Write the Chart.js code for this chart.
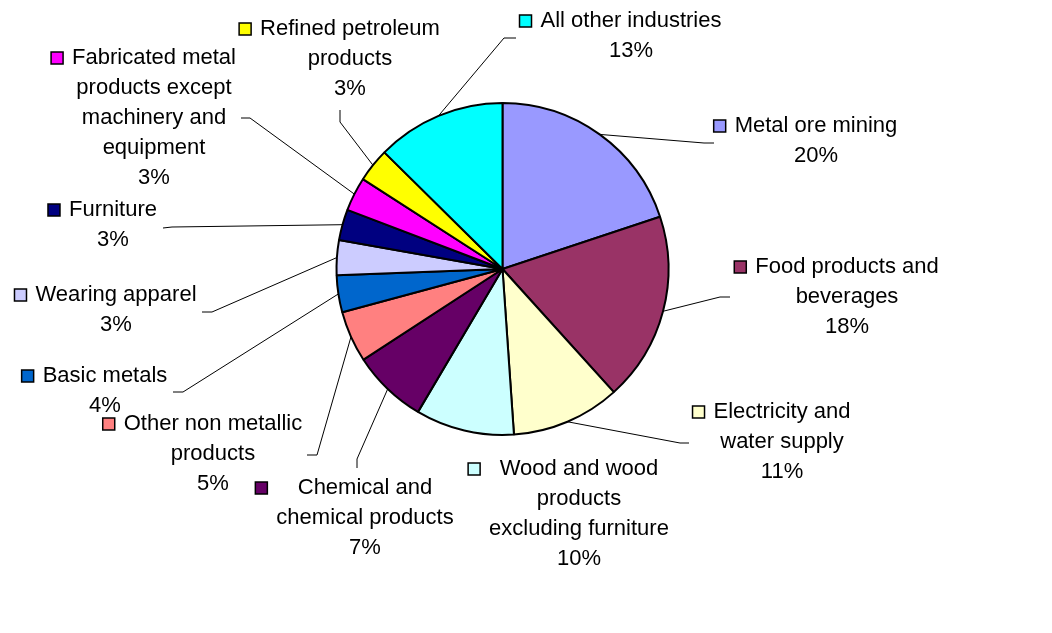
<!DOCTYPE html>
<html>
<head>
<meta charset="utf-8">
<title>Industries pie</title>
<script src="https://cdn.jsdelivr.net/npm/chart.js@4.4.1/dist/chart.umd.min.js"></script>
<style>
  html, body { margin: 0; padding: 0; background: #fff; }
  #chart { display: block; }
</style>
</head>
<body>
<canvas id="chart" width="1052" height="633"></canvas>
<script>
// categories (one entry per slice, split into the lines shown on the chart)
const categories = [
  ["Metal ore mining"],
  ["Food products and", "beverages"],
  ["Electricity and", "water supply"],
  ["Wood and wood", "products", "excluding furniture"],
  ["Chemical and", "chemical products"],
  ["Other non metallic", "products"],
  ["Basic metals"],
  ["Wearing apparel"],
  ["Furniture"],
  ["Fabricated metal", "products except", "machinery and", "equipment"],
  ["Refined petroleum", "products"],
  ["All other industries"],
];
// share of each industry
const shares = [19.9, 18.4, 10.6, 9.6, 7.3, 5.0, 3.6, 3.4, 3.0, 3.3, 3.3, 12.6];
const colors = [
  "#9999FF", "#993366", "#FFFFCC", "#CCFFFF", "#660066", "#FF8080",
  "#0066CC", "#CCCCFF", "#000080", "#FF00FF", "#FFFF00", "#00FFFF",
];

// where each label sits (text centre x, first line y) and its leader line
const labelLayout = [
  { cx: 816, y: 126, elbow: [704, 143], end: [714, 143] },
  { cx: 847, y: 267, elbow: [720, 297], end: [730, 297] },
  { cx: 782, y: 412, elbow: [680, 443], end: [689, 443] },
  { cx: 579, y: 469 },
  { cx: 365, y: 488, elbow: [357, 459], end: [357, 468] },
  { cx: 213, y: 424, elbow: [317, 455], end: [307, 455] },
  { cx: 105, y: 376, elbow: [183, 392], end: [173, 392] },
  { cx: 116, y: 295, elbow: [212, 312], end: [202, 312] },
  { cx: 113, y: 210, elbow: [172, 227], end: [163, 228] },
  { cx: 154, y: 58, elbow: [250, 118], end: [241, 118] },
  { cx: 350, y: 29, elbow: [340, 122], end: [340, 110] },
  { cx: 631, y: 21, elbow: [504, 38], end: [516, 38] },
];

const outsideLabels = {
  id: "outsideLabels",
  afterDraw(chart, args, opts) {
    const ctx = chart.ctx;
    const meta = chart.getDatasetMeta(0);
    const values = chart.data.datasets[0].data;
    const total = values.reduce((a, b) => a + b, 0);
    ctx.save();
    ctx.font = opts.font;
    ctx.fillStyle = "#000";
    ctx.textAlign = "center";
    ctx.textBaseline = "middle";
    meta.data.forEach((arc, i) => {
      const lay = opts.layout[i];
      const lines = chart.data.labels[i].concat([Math.round((values[i] / total) * 100) + "%"]);
      // leader line from the middle of the slice edge
      if (lay.end) {
        const p = arc.getProps(["x", "y", "startAngle", "endAngle", "outerRadius"], true);
        const mid = (p.startAngle + p.endAngle) / 2;
        ctx.beginPath();
        ctx.strokeStyle = "#000";
        ctx.lineWidth = 1;
        ctx.moveTo(p.x + Math.cos(mid) * p.outerRadius, p.y + Math.sin(mid) * p.outerRadius);
        ctx.lineTo(lay.elbow[0], lay.elbow[1]);
        ctx.lineTo(lay.end[0], lay.end[1]);
        ctx.stroke();
      }
      let maxW = 0;
      lines.forEach((t, j) => {
        maxW = Math.max(maxW, ctx.measureText(t).width);
        ctx.fillText(t, lay.cx, lay.y + j * opts.lineHeight);
      });
      // legend key in front of the block
      const left = lay.cx - maxW / 2 - 9 - 12;
      ctx.fillStyle = colors[i];
      ctx.fillRect(left, lay.y - 6, 12, 12);
      ctx.lineWidth = 1.5;
      ctx.strokeStyle = "#000";
      ctx.strokeRect(left, lay.y - 6, 12, 12);
      ctx.fillStyle = "#000";
    });
    ctx.restore();
  },
};

new Chart(document.getElementById("chart"), {
  type: "pie",
  data: {
    labels: categories,
    datasets: [{
      data: shares,
      backgroundColor: colors,
      borderColor: "#000",
      borderWidth: 2,
    }],
  },
  options: {
    responsive: false,
    animation: false,
    devicePixelRatio: 1,
    layout: { padding: { left: 335.5, top: 102, right: 382.5, bottom: 197 } },
    plugins: {
      legend: { display: false },
      tooltip: { enabled: false },
      outsideLabels: {
        font: '22px "Liberation Sans", Arial, sans-serif',
        lineHeight: 30,
        layout: labelLayout,
      },
    },
  },
  plugins: [outsideLabels],
});
</script>
</body>
</html>
